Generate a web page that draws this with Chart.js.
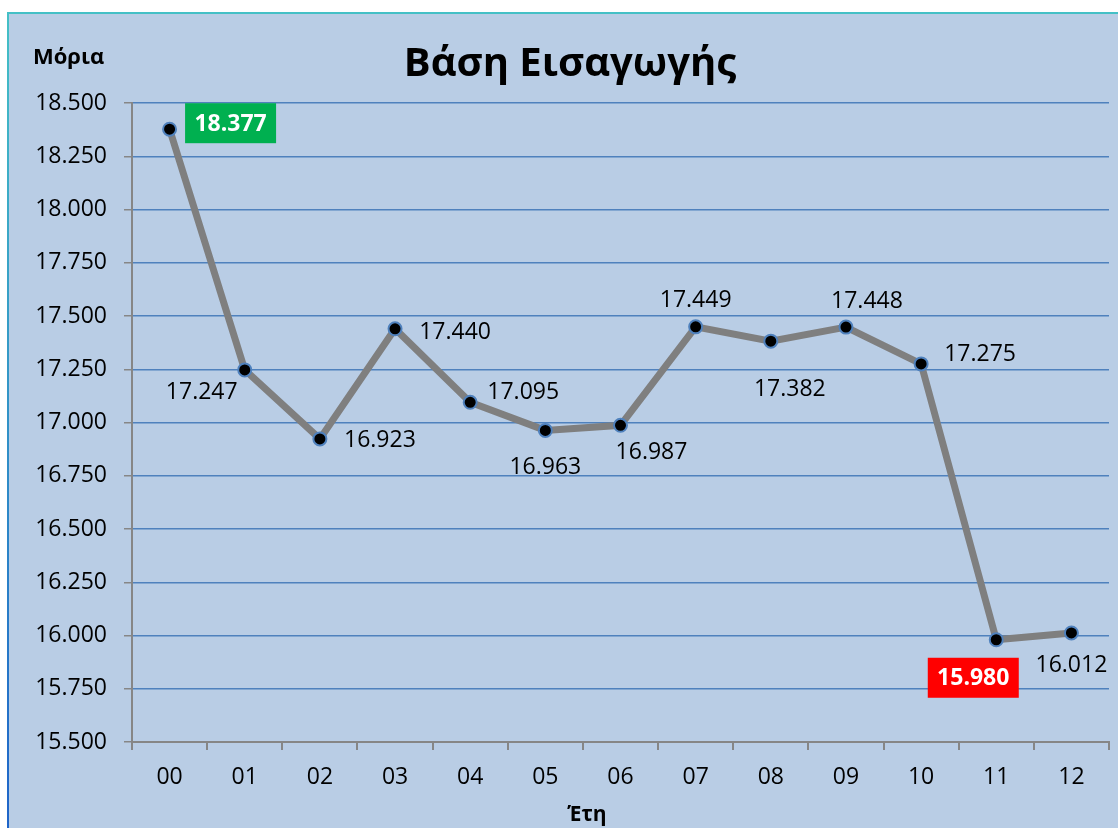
<!DOCTYPE html>
<html>
<head>
<meta charset="utf-8">
<script src="https://cdn.jsdelivr.net/npm/chart.js@4/dist/chart.umd.min.js"></script>
<style>
  html, body { margin: 0; padding: 0; background: #fff; }
  canvas { display: block; }
</style>
</head>
<body>
<canvas id="chart" width="1118" height="828"></canvas>
<script>
const years = ["00", "01", "02", "03", "04", "05", "06", "07", "08", "09", "10", "11", "12"];
const baseScores = [18377, 17247, 16923, 17440, 17095, 16963, 16987, 17449, 17382, 17448, 17275, 15980, 16012];
const yTicks = [15500, 15750, 16000, 16250, 16500, 16750, 17000, 17250, 17500, 17750, 18000, 18250, 18500];

// where each value label sits relative to its point (dx, dy in px)
const labelOffsets = [
  [61, -6], [-43, 22], [60, 1], [60, 3], [53, -11], [0, 36], [31, 26],
  [0, -27], [19, 47], [21, -27], [59, -10], [-23, 38], [0, 32]
];

const FONT = "'Open Sans', 'Noto Sans', sans-serif";

function greekNumber(v) {
  return String(v).replace(/\B(?=(\d{3})+(?!\d))/g, ".");
}

const maxIdx = baseScores.indexOf(Math.max(...baseScores));
const minIdx = baseScores.indexOf(Math.min(...baseScores));

const decorations = {
  id: "decorations",
  beforeDraw(chart) {
    const ctx = chart.ctx;
    ctx.save();
    ctx.fillStyle = "#B9CDE5";
    ctx.fillRect(9, 14, chart.width - 9, chart.height - 14);
    ctx.fillStyle = "#44C0C6";
    ctx.fillRect(8, 12, chart.width - 8, 2);
    const g = ctx.createLinearGradient(0, 12, 0, chart.height);
    g.addColorStop(0, "#44C0C6");
    g.addColorStop(1, "#1E64C8");
    ctx.fillStyle = g;
    ctx.fillRect(7, 12, 2, chart.height - 12);
    ctx.restore();
  },
  afterDraw(chart) {
    const ctx = chart.ctx;
    const meta = chart.getDatasetMeta(0);
    ctx.save();
    ctx.textAlign = "center";
    ctx.textBaseline = "middle";

    ctx.fillStyle = "#000";
    ctx.font = "bold 40px " + FONT;
    ctx.fillText("Βάση Εισαγωγής", 570, 65);
    ctx.font = "bold 22px " + FONT;
    ctx.textAlign = "left";
    ctx.fillText("Μόρια", 33, 58);
    ctx.textAlign = "center";
    ctx.font = "bold 21px " + FONT;
    ctx.fillText("Έτη", 587, 815);

    meta.data.forEach((pt, i) => {
      const x = pt.x + labelOffsets[i][0];
      const y = pt.y + labelOffsets[i][1];
      const txt = greekNumber(baseScores[i]);
      if (i === maxIdx || i === minIdx) {
        ctx.fillStyle = i === maxIdx ? "#00B050" : "#FF0000";
        ctx.fillRect(x - 45.5, y - 20, 91, 40);
        ctx.fillStyle = "#fff";
        ctx.font = "bold 23px " + FONT;
      } else {
        ctx.fillStyle = "#000";
        ctx.font = "23px " + FONT;
      }
      ctx.fillText(txt, x, y + 1);
    });
    ctx.restore();
  }
};

new Chart(document.getElementById("chart"), {
  type: "line",
  data: {
    labels: years,
    datasets: [
      {
        label: "Βάση Εισαγωγής",
        data: baseScores,
        borderColor: "#7F7F7F",
        borderWidth: 7,
        pointRadius: 6.5,
        pointBackgroundColor: "#000",
        pointBorderColor: "#4F81BD",
        pointBorderWidth: 2,
        tension: 0,
      },
    ],
  },
  options: {
    responsive: false,
    animation: false,
    layout: { padding: { top: 103, right: 9, left: 0, bottom: 0 } },
    plugins: {
      legend: { display: false },
      title: { display: false },
      tooltip: { enabled: false },
    },
    scales: {
      x: {
        offset: true,
        afterFit: (scale) => { scale.height = 86; },
        grid: {
          offset: true,
          drawOnChartArea: false,
          color: "#868686",
          lineWidth: 2,
          tickLength: 8,
        },
        border: { color: "#868686", width: 2 },
        ticks: {
          color: "#000",
          font: { family: FONT, size: 23 },
          padding: 14,
          maxRotation: 0,
        },
      },
      y: {
        min: yTicks[0],
        max: yTicks[yTicks.length - 1],
        afterFit: (scale) => { scale.width = 132; },
        afterBuildTicks: (scale) => { scale.ticks = yTicks.map((v) => ({ value: v })); },
        grid: {
          color: "#4F81BD",
          lineWidth: 1.5,
          tickColor: "#868686",
          tickLength: 8,
        },
        border: { color: "#868686", width: 2 },
        ticks: {
          color: "#000",
          font: { family: FONT, size: 23 },
          padding: 17,
          callback: (v) => greekNumber(v),
        },
      },
    },
  },
  plugins: [decorations],
});
</script>
</body>
</html>
